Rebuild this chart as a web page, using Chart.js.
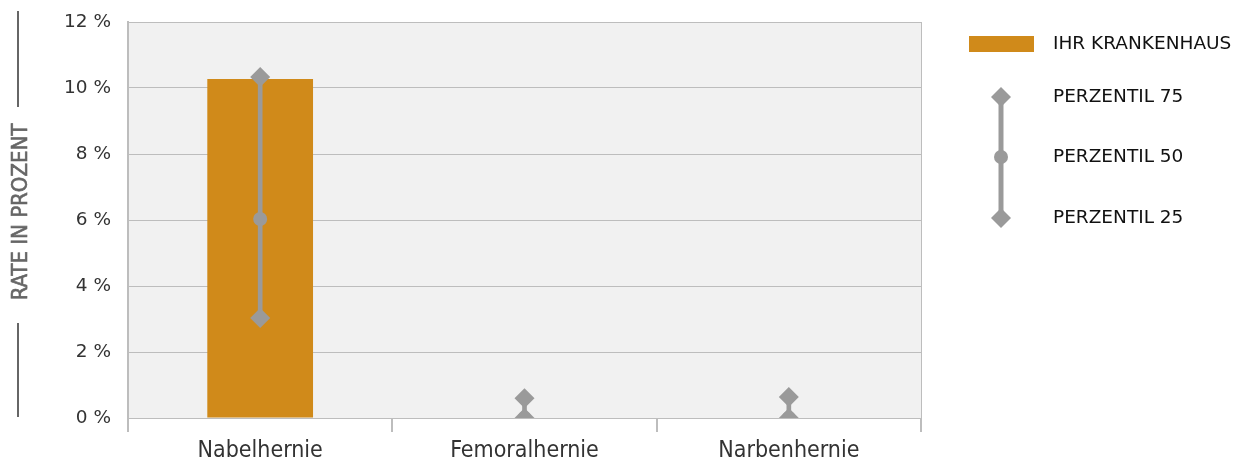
<!DOCTYPE html>
<html>
<head>
<meta charset="utf-8">
<script src="https://cdn.jsdelivr.net/npm/chart.js@4/dist/chart.umd.min.js"></script>
<style>
  html, body { margin: 0; padding: 0; background: #fff; }
  #wrap { width: 1240px; height: 464px; }
</style>
</head>
<body>
<div id="wrap"><canvas id="herniaChart" width="1240" height="464"></canvas></div>
<script>
// ======================================
// Data
// ======================================

const categories = ["Nabelhernie", "Femoralhernie", "Narbenhernie"];
const hospitalRate = [10.27, null, null];
const perzentil75 = [10.33, 0.6, 0.64];
const perzentil50 = [6.03, 0, 0];
const perzentil25 = [3.03, 0, 0];
const yTicks = [0, 2, 4, 6, 8, 10, 12];

const ORANGE = "#d08a1a";
const GREY = "#9a9a9a";

// ======================================
// Plugins
// ======================================

const plotBackground = {
  id: "plotBackground",
  beforeDraw(chart) {
    const { ctx, chartArea: a } = chart;
    ctx.save();
    ctx.fillStyle = "#f1f1f1";
    ctx.fillRect(a.left, a.top, a.right - a.left, a.bottom - a.top);
    ctx.restore();
  },
  afterDraw(chart) {
    const { ctx, chartArea: a } = chart;
    ctx.save();
    ctx.strokeStyle = "#bdbdbd";
    ctx.lineWidth = 1;
    ctx.beginPath();
    ctx.moveTo(a.right + 0.5, a.top);
    ctx.lineTo(a.right + 0.5, a.bottom);
    ctx.stroke();
    ctx.restore();
  },
};

const yTitle = {
  id: "yTitle",
  afterDraw(chart) {
    const { ctx } = chart;
    ctx.save();
    ctx.strokeStyle = "#666";
    ctx.lineWidth = 2;
    ctx.beginPath();
    ctx.moveTo(18, 11);
    ctx.lineTo(18, 107);
    ctx.moveTo(18, 323);
    ctx.lineTo(18, 417);
    ctx.stroke();

    ctx.translate(21, 212);
    ctx.rotate(-Math.PI / 2);
    ctx.fillStyle = "#666";
    ctx.strokeStyle = "#666";
    ctx.lineWidth = 0.6;
    ctx.font = "22px 'DejaVu Sans Condensed'";
    ctx.textAlign = "center";
    ctx.textBaseline = "middle";
    ctx.fillText("RATE IN PROZENT", 0, 0);
    ctx.strokeText("RATE IN PROZENT", 0, 0);
    ctx.restore();
  },
};

const sideLegend = {
  id: "sideLegend",
  afterDraw(chart) {
    const { ctx } = chart;
    ctx.save();
    ctx.font = "18.5px 'DejaVu Sans'";
    ctx.textBaseline = "middle";

    ctx.fillStyle = ORANGE;
    ctx.fillRect(969, 36, 65, 16);
    ctx.fillStyle = "#111";
    ctx.fillText("IHR KRANKENHAUS", 1053, 44);

    const mx = 1001;
    ctx.strokeStyle = GREY;
    ctx.lineWidth = 5;
    ctx.beginPath();
    ctx.moveTo(mx, 97);
    ctx.lineTo(mx, 218);
    ctx.stroke();

    ctx.fillStyle = GREY;
    [97, 218].forEach((y) => {
      ctx.beginPath();
      ctx.moveTo(mx, y - 10);
      ctx.lineTo(mx + 10, y);
      ctx.lineTo(mx, y + 10);
      ctx.lineTo(mx - 10, y);
      ctx.closePath();
      ctx.fill();
    });
    ctx.beginPath();
    ctx.arc(mx, 157, 7, 0, Math.PI * 2);
    ctx.fill();

    ctx.fillStyle = "#111";
    ctx.fillText("PERZENTIL 75", 1053, 97);
    ctx.fillText("PERZENTIL 50", 1053, 157);
    ctx.fillText("PERZENTIL 25", 1053, 218);
    ctx.restore();
  },
};

// ======================================
// Chart
// ======================================

const pointSet = (label, data, style, radius) => ({
  type: "line",
  label,
  data,
  showLine: false,
  pointStyle: style,
  pointRadius: radius,
  pointHoverRadius: radius,
  pointBackgroundColor: GREY,
  pointBorderColor: GREY,
  pointBorderWidth: 0,
  clip: 0,
  order: 0,
});

new Chart(document.getElementById("herniaChart"), {
  type: "bar",
  data: {
    labels: categories,
    datasets: [
      pointSet("Perzentil 75", perzentil75, "rectRot", 10),
      pointSet("Perzentil 50", perzentil50, "circle", 7),
      pointSet("Perzentil 25", perzentil25, "rectRot", 10),
      {
        label: "Spanne",
        data: perzentil25.map((v, i) => [v, perzentil75[i]]),
        backgroundColor: GREY,
        barThickness: 4,
        grouped: false,
        clip: 0,
        order: 1,
      },
      {
        label: "Ihr Krankenhaus",
        data: hospitalRate,
        backgroundColor: ORANGE,
        barPercentage: 0.4,
        categoryPercentage: 1,
        grouped: false,
        order: 2,
      },
    ],
  },
  options: {
    responsive: false,
    animation: false,
    events: [],
    layout: { padding: { top: 22, right: 319, bottom: 0, left: 0 } },
    plugins: {
      legend: { display: false },
      tooltip: { enabled: false },
    },
    scales: {
      x: {
        offset: true,
        afterFit(scale) {
          scale.height = 46;
          scale.paddingLeft = 0;
          scale.paddingRight = 0;
        },
        grid: {
          offset: true,
          drawOnChartArea: false,
          drawTicks: true,
          tickLength: 14,
          color: "#bdbdbd",
          lineWidth: 2,
        },
        border: { display: true, color: "#bdbdbd", width: 1 },
        ticks: {
          color: "#333",
          padding: 5,
          font: { family: "'DejaVu Sans Condensed'", size: 23 },
        },
      },
      y: {
        min: 0,
        max: 12,
        afterFit(scale) {
          scale.width = 128;
          scale.paddingTop = 0;
          scale.paddingBottom = 0;
        },
        afterBuildTicks(scale) {
          scale.ticks = yTicks.map((v) => ({ value: v }));
        },
        grid: {
          color: "#bdbdbd",
          lineWidth: 1,
          drawTicks: false,
        },
        border: { display: true, color: "#bdbdbd", width: 2 },
        ticks: {
          color: "#333",
          padding: 17,
          font: { family: "'DejaVu Sans'", size: 18.5 },
          callback: (v) => v + " %",
        },
      },
    },
  },
  plugins: [plotBackground, yTitle, sideLegend],
});
</script>
</body>
</html>
